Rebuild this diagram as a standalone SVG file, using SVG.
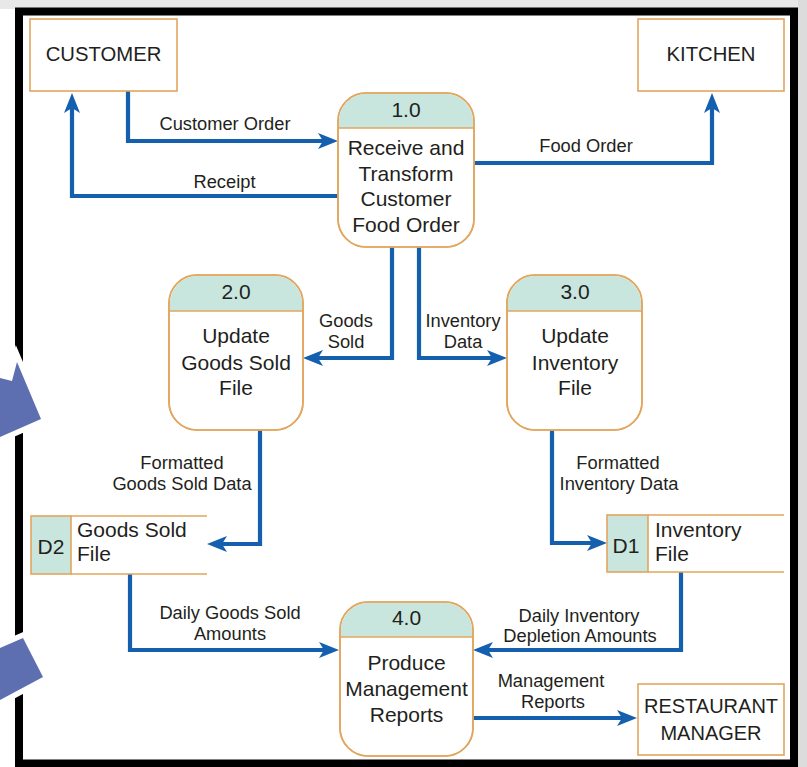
<svg xmlns="http://www.w3.org/2000/svg" width="807" height="767" viewBox="0 0 807 767">
<style>
text{font-family:"Liberation Sans",Arial,sans-serif;fill:#231f20}
.lbl{font-size:18.3px;text-anchor:middle}
.nt{font-size:21px;text-anchor:middle}
.st{font-size:21px}
.box{fill:#fff;stroke:#e2a65e;stroke-width:1.6}
.hdr{fill:#c9e6de}
.ol{fill:none;stroke:#e2a65e;stroke-width:1.6}
.flow{fill:none;stroke:#1560ae;stroke-width:4.2;marker-end:url(#ah)}
</style>
<defs>
<marker id="ah" markerUnits="userSpaceOnUse" markerWidth="24" markerHeight="18" refX="12" refY="8" orient="auto" viewBox="0 0 24 18">
<path d="M0,0 L20,8 L0,16 L5,8 Z" fill="#1560ae"/>
</marker>
</defs>
<rect x="0" y="0" width="807" height="767" fill="#fff"/>
<rect x="0" y="0" width="807" height="9" fill="#e8e8e8"/>
<rect x="798" y="0" width="9" height="767" fill="#dcdcdc"/>
<rect x="19" y="11.5" width="775" height="752" fill="#fff" stroke="#000" stroke-width="8"/>
<g id="deco">
<polygon points="0,378 12,381 17,362 41,419 0,437" fill="#5d6fb1" stroke="#fff" stroke-width="11" paint-order="stroke"/>
<polygon points="0,648 23,638 43,677 0,700" fill="#5d6fb1" stroke="#fff" stroke-width="11" paint-order="stroke"/>
</g>
<g id="connectors">
<path class="flow" d="M128,91 V141 H330"/>
<path class="flow" d="M338,196 H72 V101"/>
<path class="flow" d="M474,163 H712 V101"/>
<path class="flow" d="M392,247 V358 H311"/>
<path class="flow" d="M419,247 V358 H499"/>
<path class="flow" d="M260,430 V544 H215"/>
<path class="flow" d="M552,430 V543 H599"/>
<path class="flow" d="M130,574 V650 H331"/>
<path class="flow" d="M681,572 V650 H481"/>
<path class="flow" d="M473,718 H629"/>
<text class="lbl" x="225" y="130">Customer Order</text>
<text class="lbl" x="224.5" y="188">Receipt</text>
<text class="lbl" x="586" y="152">Food Order</text>
<text class="lbl" x="346" y="327">Goods</text>
<text class="lbl" x="346" y="348">Sold</text>
<text class="lbl" x="463" y="327">Inventory</text>
<text class="lbl" x="463" y="348">Data</text>
<text class="lbl" x="182" y="469">Formatted</text>
<text class="lbl" x="182" y="490">Goods Sold Data</text>
<text class="lbl" x="618" y="469">Formatted</text>
<text class="lbl" x="619" y="490">Inventory Data</text>
<text class="lbl" x="230" y="619">Daily Goods Sold</text>
<text class="lbl" x="230" y="640">Amounts</text>
<text class="lbl" x="579" y="622">Daily Inventory</text>
<text class="lbl" x="580" y="642">Depletion Amounts</text>
<text class="lbl" x="551" y="687">Management</text>
<text class="lbl" x="553" y="708">Reports</text>
</g>
<g id="customer">
<rect class="box" x="30" y="19" width="147" height="72"/>
<text class="nt" x="103.5" y="60.5" style="font-size:20.3px">CUSTOMER</text>
</g>
<g id="kitchen">
<rect class="box" x="638" y="19" width="146" height="72"/>
<text class="nt" x="711" y="61" style="font-size:20.3px">KITCHEN</text>
</g>
<g id="manager">
<rect class="box" x="638" y="684" width="146" height="71"/>
<text class="nt" x="711" y="713" style="font-size:20px">RESTAURANT</text>
<text class="nt" x="711" y="740" style="font-size:20px">MANAGER</text>
</g>
<g id="p1">
<rect class="box" x="338" y="93" width="136" height="154" rx="28"/>
<path class="hdr" d="M338.8,128 V121 A28,28 0 0 1 366,93.8 H446 A28,28 0 0 1 473.2,121 V128 Z"/>
<line class="ol" x1="338" y1="128" x2="474" y2="128"/>
<rect class="ol" x="338" y="93" width="136" height="154" rx="28"/>
<text class="nt" x="406" y="117">1.0</text>
<text class="nt" x="406" y="155">Receive and</text>
<text class="nt" x="406" y="181">Transform</text>
<text class="nt" x="406" y="206">Customer</text>
<text class="nt" x="406" y="232">Food Order</text>
</g>
<g id="p2">
<rect class="box" x="169" y="275" width="134" height="155" rx="28"/>
<path class="hdr" d="M169.8,311 V303 A28,28 0 0 1 197,275.8 H275 A28,28 0 0 1 302.2,303 V311 Z"/>
<line class="ol" x1="169" y1="311" x2="303" y2="311"/>
<rect class="ol" x="169" y="275" width="134" height="155" rx="28"/>
<text class="nt" x="236" y="299">2.0</text>
<text class="nt" x="236" y="343">Update</text>
<text class="nt" x="236" y="370">Goods Sold</text>
<text class="nt" x="236" y="395">File</text>
</g>
<g id="p3">
<rect class="box" x="507" y="275" width="135" height="155" rx="28"/>
<path class="hdr" d="M507.8,311 V303 A28,28 0 0 1 535,275.8 H614 A28,28 0 0 1 641.2,303 V311 Z"/>
<line class="ol" x1="507" y1="311" x2="642" y2="311"/>
<rect class="ol" x="507" y="275" width="135" height="155" rx="28"/>
<text class="nt" x="575" y="299">3.0</text>
<text class="nt" x="575" y="343">Update</text>
<text class="nt" x="575" y="370">Inventory</text>
<text class="nt" x="575" y="395">File</text>
</g>
<g id="p4">
<rect class="box" x="340" y="602" width="133" height="154" rx="28"/>
<path class="hdr" d="M340.8,637 V630 A28,28 0 0 1 368,602.8 H445 A28,28 0 0 1 472.2,630 V637 Z"/>
<line class="ol" x1="340" y1="637" x2="473" y2="637"/>
<rect class="ol" x="340" y="602" width="133" height="154" rx="28"/>
<text class="nt" x="406.5" y="625">4.0</text>
<text class="nt" x="406.5" y="670">Produce</text>
<text class="nt" x="406.5" y="696">Management</text>
<text class="nt" x="406.5" y="722">Reports</text>
</g>
<g id="d2">
<rect x="31" y="516" width="176" height="58" fill="#fff"/>
<rect x="31" y="516" width="40" height="58" fill="#c9e6de" stroke="#e2a65e" stroke-width="1.6"/>
<line class="ol" x1="71" y1="516" x2="207" y2="516"/>
<line class="ol" x1="71" y1="574" x2="207" y2="574"/>
<text class="nt" x="51" y="554">D2</text>
<text class="st" x="77" y="537">Goods Sold</text>
<text class="st" x="77" y="561">File</text>
</g>
<g id="d1">
<rect x="607" y="515" width="177" height="57" fill="#fff"/>
<rect x="607" y="515" width="41" height="57" fill="#c9e6de" stroke="#e2a65e" stroke-width="1.6"/>
<line class="ol" x1="648" y1="515" x2="784" y2="515"/>
<line class="ol" x1="648" y1="572" x2="784" y2="572"/>
<text class="nt" x="626" y="553">D1</text>
<text class="st" x="655" y="537">Inventory</text>
<text class="st" x="655" y="561">File</text>
</g>
</svg>
